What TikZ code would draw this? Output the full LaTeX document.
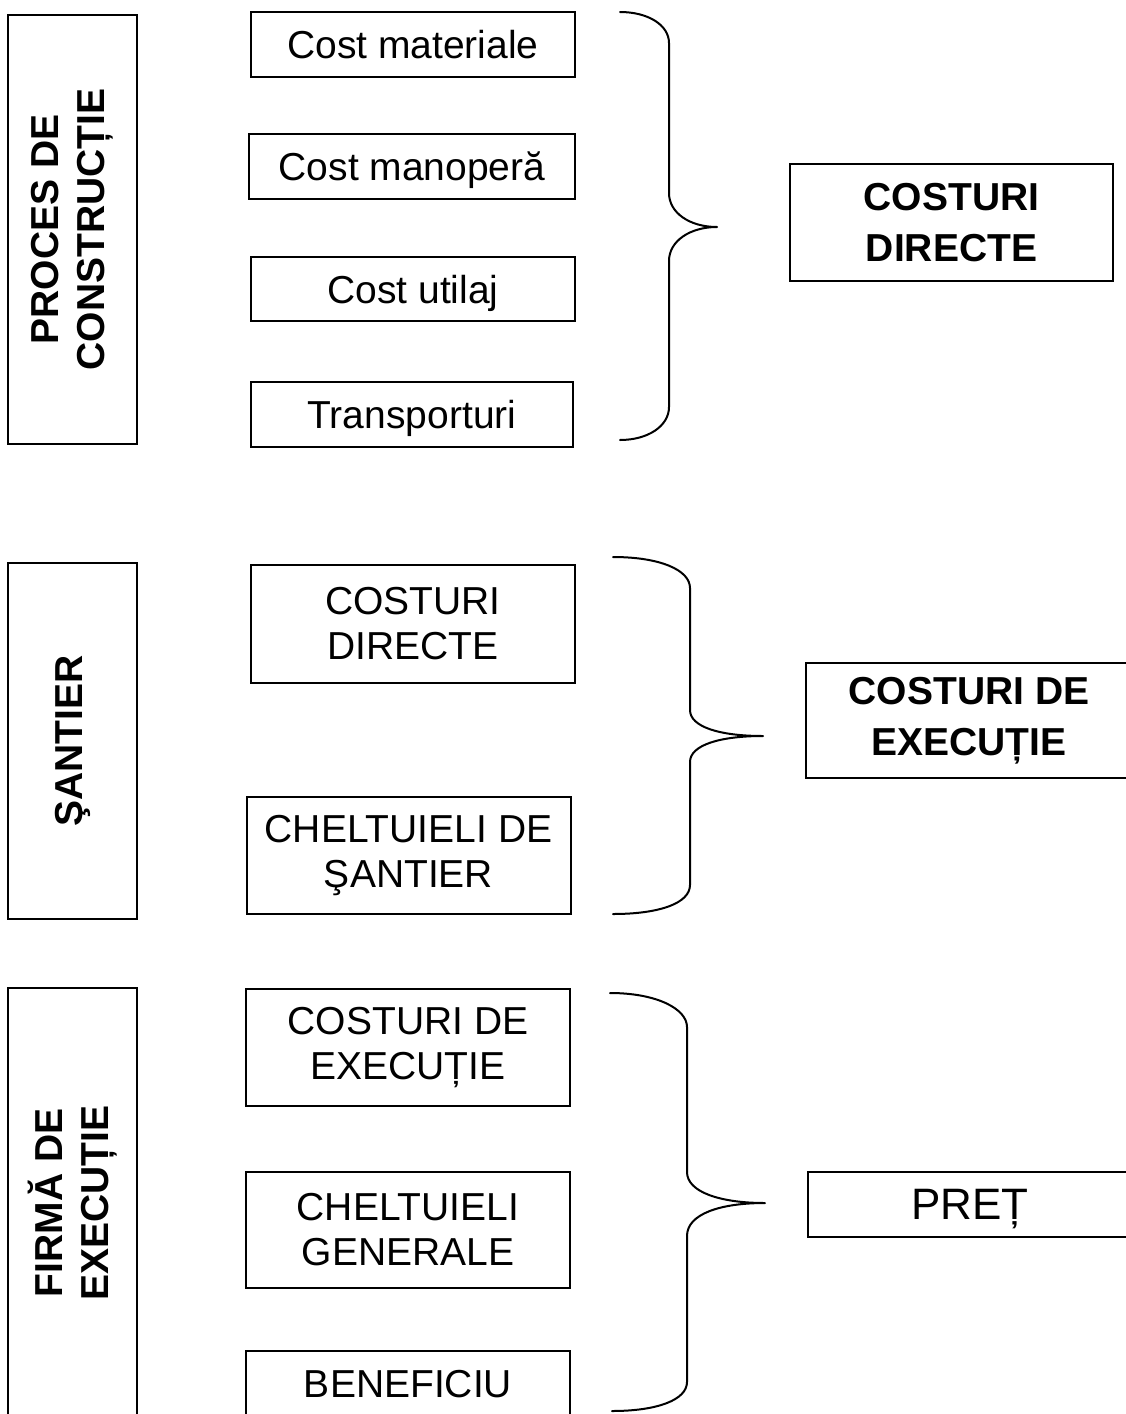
\documentclass[tikz,border=0pt]{standalone}
\usepackage{fontspec}
\setmainfont{Liberation Sans}
\begin{document}
\begin{tikzpicture}[x=1pt,y=-1pt,
  frame/.style={draw, line width=2pt, inner sep=0pt, align=center},
  itembox/.style={frame, font=\fontsize{39}{45}\selectfont},
  oneline/.style={text depth=0pt},
  sumbox/.style={frame, font=\bfseries\fontsize{39}{51}\selectfont},
  pricebox/.style={frame, oneline, font=\fontsize{44}{50}\selectfont},
  sidebox/.style={frame},
  sidelabel/.style={rotate=90, align=center, inner sep=0pt, font=\bfseries\fontsize{39}{46}\selectfont},
  curly/.style={line width=2pt, line cap=round, line join=round}]
\useasboundingbox (0,0) rectangle (1126,1414);
\clip (0,0) rectangle (1126,1414);

% ---------- level 1: construction process ----------
\node[sidebox, minimum width=129, minimum height=429] (proc) at (72.5,229.5) {};
\node[sidelabel] (procL) at (proc.center) {PROCES DE\\CONSTRUCȚIE};

\node[itembox, oneline, minimum width=324, minimum height=65] (mat) at (413,44.5) {Cost materiale};
\node[itembox, oneline, minimum width=326, minimum height=65] (man) at (412,166.5) {Cost manoperă};
\node[itembox, oneline, minimum width=324, minimum height=64] (util) at (413,289) {Cost utilaj};
\node[itembox, oneline, minimum width=322, minimum height=65] (trans) at (412,414.5) {Transporturi};

\coordinate (b1top) at (620,12);
\coordinate (b1tip) at (717,227);
\coordinate (b1bot) at (620,440);
\draw[curly] (b1top) .. controls (648,12) and (669,25) .. (669,43)
  -- (669,193) .. controls (669,213) and (690,227) .. (b1tip)
  .. controls (690,227) and (669,241) .. (669,261)
  -- (669,407) .. controls (669,426) and (648,440) .. (b1bot);

\node[sumbox, minimum width=323, minimum height=117] (cd) at (951.5,222.5) {COSTURI\\DIRECTE};

% ---------- level 2: site ----------
\node[sidebox, minimum width=129, minimum height=356] (sant) at (72.5,741) {};
\node[sidelabel] (santL) at (sant.center) {ŞANTIER};

\node[itembox, minimum width=324, minimum height=118] (cd2) at (413,624) {COSTURI\\DIRECTE};
\node[itembox, minimum width=324, minimum height=117] (chs) at (408.5,855.5) {CHELTUIELI DE\\ŞANTIER};

\coordinate (b2top) at (613,557);
\coordinate (b2tip) at (763,736);
\coordinate (b2bot) at (613,914);
\draw[curly] (b2top) .. controls (660,557) and (690,570) .. (690,588)
  -- (690,710) .. controls (690,727) and (720,736) .. (b2tip)
  .. controls (720,736) and (690,745) .. (690,762)
  -- (690,885) .. controls (690,903) and (660,914) .. (b2bot);

\node[sumbox, minimum width=326, minimum height=115] (ce) at (969,720.5) {COSTURI DE\\EXECUȚIE};

% ---------- level 3: contractor ----------
\node[sidebox, minimum width=129, minimum height=430] (firm) at (72.5,1203) {};
\node[sidelabel] (firmL) at (firm.center) {FIRMĂ DE\\EXECUȚIE};

\node[itembox, minimum width=324, minimum height=117] (ce2) at (408,1047.5) {COSTURI DE\\EXECUȚIE};
\node[itembox, minimum width=324, minimum height=116] (chg) at (408,1230) {CHELTUIELI\\GENERALE};
\node[itembox, oneline, minimum width=324, minimum height=65] (ben) at (408,1383.5) {BENEFICIU};

\coordinate (b3top) at (610,993);
\coordinate (b3tip) at (765,1203);
\coordinate (b3bot) at (612,1411);
\draw[curly] (b3top) .. controls (657,993) and (687,1009) .. (687,1027)
  -- (687,1172) .. controls (687,1192) and (720,1203) .. (b3tip)
  .. controls (720,1203) and (687,1214) .. (687,1236)
  -- (687,1382) .. controls (687,1400) and (657,1411) .. (b3bot);

\node[pricebox, minimum width=324, minimum height=65] (pret) at (970,1204.5) {PREȚ};
\end{tikzpicture}
\end{document}
